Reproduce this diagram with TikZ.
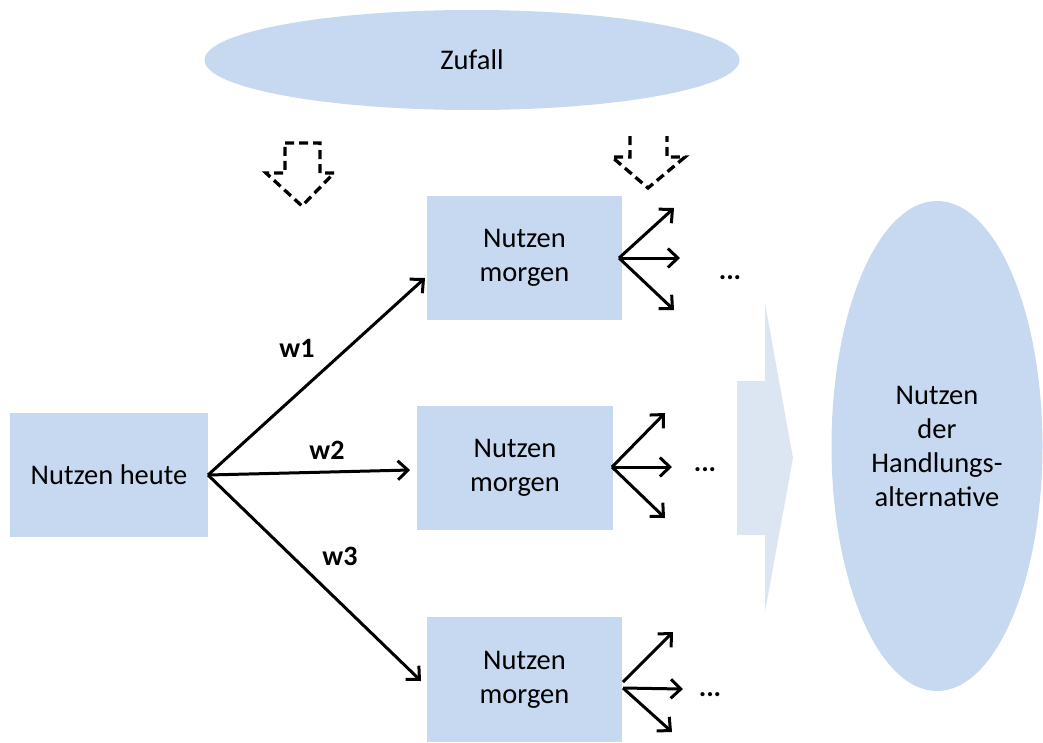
\documentclass[tikz,border=0pt]{standalone}
\usepackage{fontspec}
\setmainfont{Carlito}
\usetikzlibrary{arrows.meta,shapes.geometric}
\definecolor{boxblue}{HTML}{C6D9F0}
\definecolor{arrowblue}{HTML}{DCE6F2}
\tikzset{
  box/.style={rectangle, fill=boxblue, inner sep=0pt, align=center,
    font=\fontsize{28.5}{34}\selectfont},
  blob/.style={ellipse, fill=boxblue, inner sep=0pt, align=center,
    font=\fontsize{28.5}{34}\selectfont},
  conn/.style={line width=3pt, -{Straight Barb[length=10pt,width=19pt,line width=3pt]}},
  wlabel/.style={font=\fontsize{28}{30}\selectfont\bfseries},
  dots/.style={font=\fontsize{28}{30}\selectfont\bfseries},
  dashedarrow/.style={line width=3.3pt, dash pattern=on 9pt off 5pt, line join=miter}
}
\begin{document}
\begin{tikzpicture}[x=1pt,y=-1pt]
\useasboundingbox (0,0) rectangle (1043,742);
% Zufall
\node[blob, minimum width=535pt, minimum height=100pt] (zufall) at (472,60) {Zufall};
% dashed arrows
\draw[dashedarrow] (285,143) -- (320,143) -- (320,173) -- (334,173) -- (302,206) -- (266,173) -- (285,173) -- cycle;
\draw[dashedarrow] (630,136) -- (630,157) -- (612,157) -- (648,188) -- (685,157) -- (667,157) -- (667,136);
% block arrow
\fill[arrowblue] (737,381) -- (765,381) -- (765,303) -- (793,458) -- (765,612) -- (765,535) -- (737,535) -- cycle;
% boxes
\node[box, minimum width=198pt, minimum height=124pt] (heute) at (109,475) {Nutzen heute};
\node[box, minimum width=195pt, minimum height=124pt] (m1) at (524.5,258) {Nutzen\\morgen};
\node[box, minimum width=196pt, minimum height=124pt] (m2) at (515,468) {Nutzen\\morgen};
\node[box, minimum width=195pt, minimum height=125pt] (m3) at (524.5,679.5) {Nutzen\\morgen};
% big ellipse
\node[blob, minimum width=211pt, minimum height=490pt] (alt) at (937,446) {Nutzen\\der\\Handlungs-\\alternative};
% main connectors
\coordinate (s0) at (208,475);
\coordinate (e1) at (425,278);
\coordinate (e2) at (410,470);
\coordinate (e3) at (421,681);
\draw[conn] (s0) -- (e1);
\draw[conn] (s0) -- (e2);
\draw[conn] (s0) -- (e3);
\node[wlabel] (w1) at (297,348) {w1};
\node[wlabel] (w2) at (327,450) {w2};
\node[wlabel] (w3) at (340,556) {w3};
% small arrows box 1
\coordinate (o1) at (619,258);
\coordinate (a1) at (674,208);
\coordinate (b1) at (680,258);
\coordinate (c1) at (674,310);
\draw[conn] (o1) -- (a1);
\draw[conn] (o1) -- (b1);
\draw[conn] (o1) -- (c1);
\node[dots] (d1) at (730,278) {...};
% small arrows box 2
\coordinate (o2) at (612,467);
\coordinate (a2) at (665,413);
\coordinate (b2) at (672,467);
\coordinate (c2) at (665,518);
\draw[conn] (o2) -- (a2);
\draw[conn] (o2) -- (b2);
\draw[conn] (o2) -- (c2);
\node[dots] (d2) at (705,470) {...};
% small arrows box 3
\coordinate (o3) at (623,682);
\coordinate (o3b) at (623,688);
\coordinate (a3) at (673,632);
\coordinate (b3) at (683,689);
\coordinate (c3) at (672,732);
\draw[conn] (o3) -- (a3);
\draw[conn] (o3b) -- (b3);
\draw[conn] (o3b) -- (c3);
\node[dots] (d3) at (710,695) {...};
\end{tikzpicture}
\end{document}
